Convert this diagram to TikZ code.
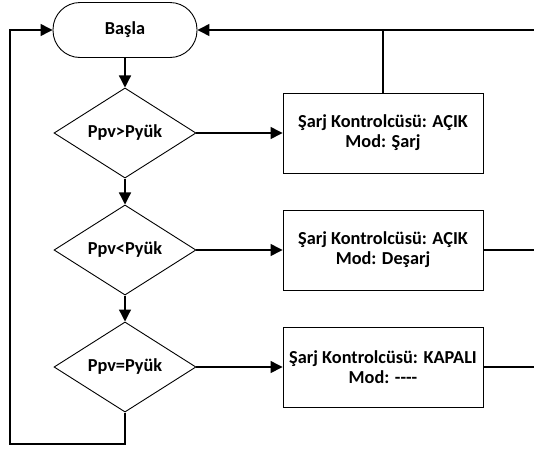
\documentclass[tikz,border=0pt]{standalone}
\usepackage{fontspec}
\setmainfont{Carlito}
\usetikzlibrary{shapes.geometric,arrows.meta}
\begin{document}
\begin{tikzpicture}[x=1pt,y=-1pt,
  every node/.style={font=\bfseries\fontsize{18.3}{20}\selectfont, align=center, line width=0.9pt},
  term/.style={draw, rectangle, rounded corners=27pt, minimum width=144pt, minimum height=55pt, inner sep=0pt},
  dec/.style={draw, diamond, minimum width=142pt, minimum height=79pt, inner sep=0pt},
  act/.style={draw, rectangle, minimum width=200pt, minimum height=80pt, inner sep=0pt},
  flow/.style={line width=1.3pt, -{Triangle[length=12pt,width=12pt]}},
  wire/.style={line width=1.3pt}]
\useasboundingbox (0,0) rectangle (534,450);
\node[term] (start) at (125,30) {Başla};
\node[dec] (d1) at (125,133) {Ppv>Pyük};
\node[dec] (d2) at (125,250) {Ppv<Pyük};
\node[dec] (d3) at (125,367) {Ppv=Pyük};
\node[act] (b1) at (383,133) {Şarj Kontrolcüsü: AÇIK\\Mod: Şarj};
\node[act] (b2) at (383,250) {Şarj Kontrolcüsü: AÇIK\\Mod: Deşarj};
\node[act] (b3) at (383,367) {Şarj Kontrolcüsü: KAPALI\\Mod: -{}-{}-{}-};
\coordinate (rtop) at (534,30);
\coordinate (r2) at (534,250);
\coordinate (r3) at (534,367);
\coordinate (lbot) at (10,444);
\coordinate (ltop) at (10,30);
\draw[flow] (start) -- (d1);
\draw[flow] (d1) -- (d2);
\draw[flow] (d2) -- (d3);
\draw[flow] (d1) -- (b1);
\draw[flow] (d2) -- (b2);
\draw[flow] (d3) -- (b3);
\draw[flow] (rtop) -- (start.east);
\draw[wire] (b1.north) -- (b1.north |- rtop);
\draw[wire] (b2.east) -- (r2);
\draw[wire] (b3.east) -- (r3);
\draw[flow] (d3.south) |- (lbot) -- (ltop) -- (start.west);
\end{tikzpicture}
\end{document}
